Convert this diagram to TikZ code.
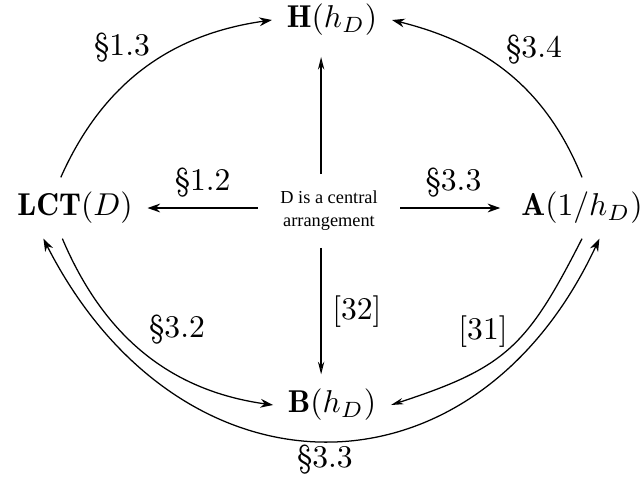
\documentclass[tikz,border=0pt]{standalone}
\usepackage{fontspec}
\newfontfamily\notefont[Ligatures=TeX]{Liberation Serif}
\usetikzlibrary{arrows.meta}

\begin{document}
\begin{tikzpicture}[
    x=0.3165pt, y=-0.3165pt,
    obj/.style={inner sep=4.5pt},
    note/.style={
      font=\notefont\fontsize{5.8}{7.3}\selectfont,
      align=center,
      inner xsep=7pt,
      inner ysep=5.2pt,
    },
    arrow/.style={
      -{Stealth[length=4pt,width=2.8pt]},
      line width=0.4pt,
    },
    twoway/.style={
      {Stealth[length=4pt,width=2.8pt]}-{Stealth[length=4pt,width=2.8pt]},
      line width=0.4pt,
    },
    openarrow/.style={
      -{Stealth[open,length=4pt,width=2pt]},
      line width=0.4pt,
    },
  ]
    \useasboundingbox (0,0) rectangle (642,479);
    \node[obj] (H) at (332,20) {$\mathbf{H}(h_D)$};
    \node[obj] (LCT) at (75,208) {$\mathbf{LCT}(D)$};
    \node[obj] (A) at (582,208) {$\mathbf{A}(1/h_D)$};
    \node[obj] (B) at (332,405) {$\mathbf{B}(h_D)$};
    \node[note] (center) at (329,211) {D is a central\\arrangement};
    % arrows out of the centre
    \draw[openarrow, shorten >=2pt] ([xshift=-2.5pt]center.north)
      -- ([xshift=-2.5pt]center.north |- H.south);
    \draw[openarrow] ([xshift=-2.5pt]center.south)
      -- ([xshift=-2.5pt]center.south |- B.north)
      node[midway, right] (l32b) {[32]};
    \draw[arrow] (center.west |- LCT.east) -- (LCT.east)
      node[midway, above] (l12) {\S1.2};
    \draw[arrow, shorten >=2pt] (center.east |- A.west) -- (A.west)
      node[midway, above] (l33) {\S3.3};
    % outer arcs
    \draw[arrow] ([xshift=-4.5pt]LCT.north) to[out=66, in=188] (H.west);
    \draw[arrow] (A.north) to[out=112, in=-14] (H.east);
    \draw[arrow] ([xshift=-4pt]LCT.south) to[out=-67, in=172] (B.west);
    \draw[openarrow] (A.south) to[out=-117, in=18, looseness=1.22] (B.east);
    \draw[twoway] ([xshift=-10pt]LCT.south) to[out=-63, in=-115, looseness=1.38]
      node[below, inner sep=1.2pt] (l33b) {\S3.3} ([xshift=5.5pt]A.south);
    \node (l13) at (122,48) {\S1.3};
    \node (l34) at (534,50) {\S3.4};
    \node (l32) at (177,330) {\S3.2};
    \node (l31) at (483,332) {[31]};
  \end{tikzpicture}
\end{document}
